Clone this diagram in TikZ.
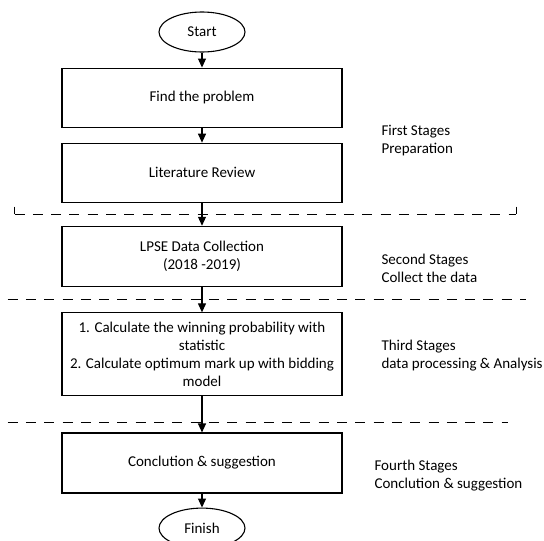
\documentclass[tikz,border=0pt]{standalone}
\usepackage{fontspec}
\setmainfont{Carlito}
\usetikzlibrary{arrows.meta, shapes.geometric, positioning}
\tikzset{
  terminal/.style={ellipse, draw, minimum width=86pt, minimum height=40pt, inner sep=0pt},
  process/.style={rectangle, draw, minimum width=280pt, align=center, inner sep=2pt},
  stagelabel/.style={anchor=west, align=left, inner sep=0pt},
  stageline/.style={dash pattern=on 10pt off 8.3pt, line width=1pt},
}

\begin{document}
\begin{tikzpicture}[>={Triangle[length=9pt,width=8pt]}, line width=1.1pt, every node/.style={font=\fontsize{15}{18}\selectfont}]
\useasboundingbox (0,0) rectangle (544pt,-541pt);
% flow chart
\node[terminal] (start) at (202pt,-32pt) {Start};
\node[process, minimum height=59pt, below=15pt of start] (find) {Find the problem};
\node[process, minimum height=59pt, below=15pt of find] (lit) {Literature Review};
\node[process, minimum height=60pt, below=23pt of lit] (lpse) {LPSE Data Collection\\(2018 -2019)};
\node[process, minimum height=83pt, below=25.5pt of lpse] (calc) {1. Calculate the winning probability with\\statistic\\2. Calculate optimum mark up with bidding\\model};
\node[process, minimum height=60pt, below=36pt of calc] (concl) {Conclution \& suggestion};
\node[terminal, below=14pt of concl] (finish) {Finish};

\draw[->] (start) -- (find);
\draw[->] (find) -- (lit);
\draw[->] (lit) -- (lpse);
\draw[->] (lpse) -- (calc);
\draw[->] (calc) -- (concl);
\draw[->] (concl) -- (finish);

% stages
\node[stagelabel] (stage1) at (381pt,-140.5pt) {First Stages\\Preparation};
\node[stagelabel] (stage2) at (381pt,-268pt) {Second Stages\\Collect the data};
\node[stagelabel] (stage3) at (381pt,-356pt) {Third Stages\\data processing \& Analysis};
\node[stagelabel] (stage4) at (374pt,-475.5pt) {Fourth Stages\\Conclution \& suggestion};

% separators
\draw[stageline] (14.5pt,-214pt) -- (516pt,-214pt);
\draw[line width=1pt] (14.5pt,-206.7pt) -- (14.5pt,-214pt);
\draw[line width=1pt] (516pt,-206.7pt) -- (516pt,-214pt);
\draw[stageline] (7.6pt,-299.5pt) -- (526pt,-299.5pt);
\draw[stageline] (7.6pt,-422pt) -- (508pt,-422pt);
\end{tikzpicture}
\end{document}
